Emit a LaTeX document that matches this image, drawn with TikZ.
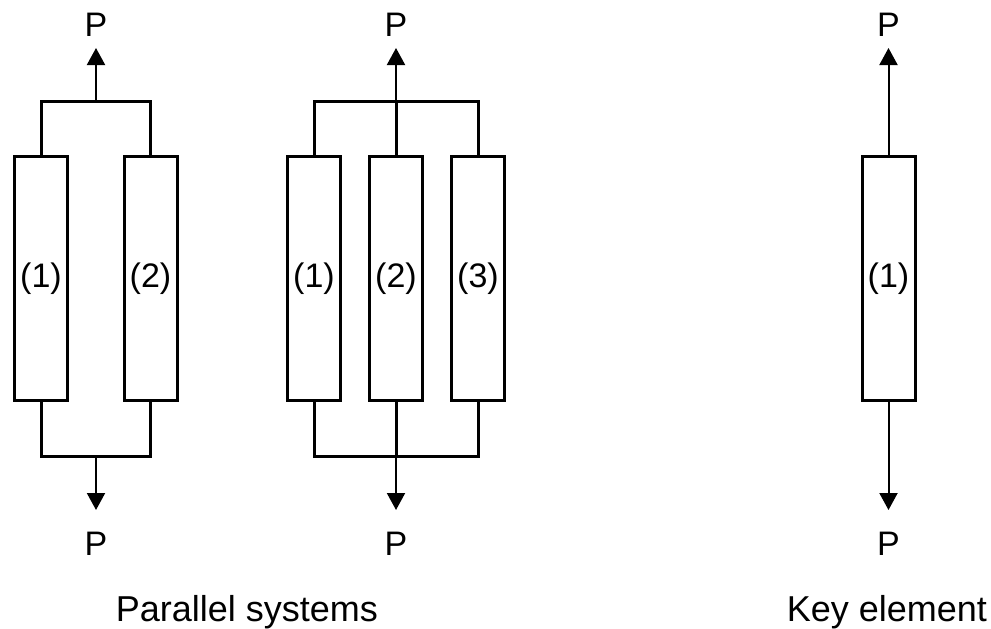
\documentclass[tikz,border=0pt]{standalone}
\usepackage{fontspec}
\setmainfont{Liberation Sans}
\usetikzlibrary{arrows.meta,positioning}
\tikzset{
  member/.style={draw,line width=3pt,minimum width=53pt,minimum height=244pt,inner sep=0pt,font=\fontsize{34}{40}\selectfont},
  link/.style={line width=3pt},
  load/.style={line width=2pt,-{Triangle[length=17pt,width=18pt]}},
  force/.style={font=\fontsize{34}{40}\selectfont,inner sep=0pt,anchor=base},
  caption/.style={font=\fontsize{36}{42}\selectfont,inner sep=0pt,anchor=base}
}

\begin{document}
\begin{tikzpicture}[x=1pt,y=-1pt]
  \useasboundingbox (0,0) rectangle (991,629);

  % two members in parallel
  \node[member] (s1a) at (41,278.5) {(1)};
  \node[member] (s1b) at (150.5,278.5) {(2)};
  \coordinate (s1top) at (96,101);
  \coordinate (s1bot) at (96,456);
  \coordinate (s1up) at (96,48);
  \coordinate (s1down) at (96,510);
  \node[force] (p1u) at (96,36) {P};
  \node[force] (p1d) at (96,555) {P};
  \draw[link] (s1a.north) |- (s1top) -| (s1b.north);
  \draw[link] (s1a.south) |- (s1bot) -| (s1b.south);
  \draw[load] (s1top) -- (s1up);
  \draw[load] (s1bot) -- (s1down);

  % three members in parallel
  \node[member] (s2a) at (314,278.5) {(1)};
  \node[member] (s2b) at (396,278.5) {(2)};
  \node[member] (s2c) at (478,278.5) {(3)};
  \coordinate (s2top) at (396,101);
  \coordinate (s2bot) at (396,456);
  \coordinate (s2up) at (396,48);
  \coordinate (s2down) at (396,510);
  \node[force] (p2u) at (396,36) {P};
  \node[force] (p2d) at (396,555) {P};
  \draw[link] (s2a.north) |- (s2top) -| (s2c.north);
  \draw[link] (s2a.south) |- (s2bot) -| (s2c.south);
  \draw[link] (s2b.north) -- (s2top);
  \draw[link] (s2b.south) -- (s2bot);
  \draw[load] (s2top) -- (s2up);
  \draw[load] (s2bot) -- (s2down);

  % key element
  \node[member] (s3a) at (888.5,278.5) {(1)};
  \coordinate (s3up) at (888.5,48);
  \coordinate (s3down) at (888.5,510);
  \node[force] (p3u) at (888.5,36) {P};
  \node[force] (p3d) at (888.5,555) {P};
  \draw[load] (s3a.north) -- (s3up);
  \draw[load] (s3a.south) -- (s3down);

  \node[caption] (cap1) at (247,621) {Parallel systems};
  \node[caption] (cap2) at (887,621) {Key element};
\end{tikzpicture}
\end{document}
